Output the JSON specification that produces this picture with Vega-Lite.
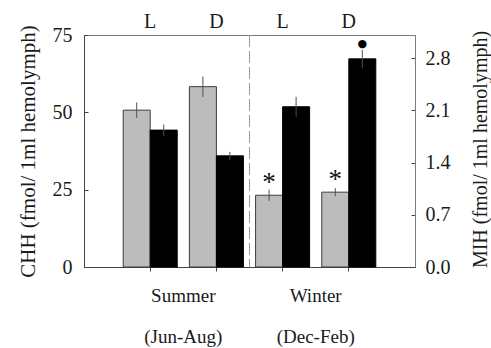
{
  "$schema": "https://vega.github.io/schema/vega-lite/v6.json",
  "width": 331,
  "height": 232,
  "autosize": {"type": "none"},
  "padding": {"left": 84, "top": 35, "right": 76, "bottom": 81},
  "config": {
    "font": "Liberation Serif",
    "view": {"stroke": "#7a7a7a", "strokeWidth": 1},
    "axis": {
      "labelFont": "Liberation Serif",
      "titleFont": "Liberation Serif",
      "labelFontSize": 20,
      "titleFontSize": 20,
      "titleFontWeight": "normal",
      "labelColor": "#1a1a1a",
      "titleColor": "#1a1a1a",
      "domainColor": "#444444",
      "tickColor": "#444444",
      "grid": false
    }
  },
  "datasets": {
    "bars": [
      {"group": "Summer L", "series": "CHH", "value": 50.7, "lo": 48.2, "hi": 53.2, "note": ""},
      {"group": "Summer L", "series": "MIH", "value": 1.835, "lo": 1.76, "hi": 1.911, "note": ""},
      {"group": "Summer D", "series": "CHH", "value": 58.3, "lo": 55.0, "hi": 61.6, "note": ""},
      {"group": "Summer D", "series": "MIH", "value": 1.49, "lo": 1.436, "hi": 1.544, "note": ""},
      {"group": "Winter L", "series": "CHH", "value": 23.2, "lo": 21.4, "hi": 25.0, "note": "*"},
      {"group": "Winter L", "series": "MIH", "value": 2.148, "lo": 2.014, "hi": 2.282, "note": ""},
      {"group": "Winter D", "series": "CHH", "value": 24.2, "lo": 22.9, "hi": 25.5, "note": "*"},
      {"group": "Winter D", "series": "MIH", "value": 2.79, "lo": 2.67, "hi": 2.91, "note": "●"}
    ],
    "seasons": [
      {"season": "Summer"},
      {"season": "Winter"}
    ]
  },
  "layer": [
    {
      "data": {"name": "seasons"},
      "transform": [{"filter": "datum.season === 'Winter'"}],
      "mark": {"type": "rule", "color": "#9a9a9a", "strokeWidth": 1, "strokeDash": [12, 4]},
      "encoding": {
        "x": {
          "field": "season",
          "type": "nominal",
          "bandPosition": 0,
          "scale": {"type": "band", "domain": ["Summer", "Winter"], "paddingInner": 0, "paddingOuter": 0.25},
          "axis": {
            "orient": "bottom",
            "title": null,
            "domain": false,
            "ticks": false,
            "labelAngle": 0,
            "labelFont": "Liberation Serif",
            "labelPadding": 19,
            "labelFontSize": 19,
            "labelLineHeight": 41,
            "labelExpr": "datum.value === 'Summer' ? ['Summer', '(Jun-Aug)'] : ['Winter', '(Dec-Feb)']"
          }
        }
      }
    },
    {
      "data": {"name": "bars"},
      "transform": [{"filter": "datum.series === 'CHH'"}],
      "encoding": {
        "x": {
          "field": "group",
          "type": "nominal",
          "sort": null,
          "scale": {"type": "band", "paddingInner": 0.184, "paddingOuter": 0.592},
          "axis": {"orient": "bottom", "title": null, "labels": false, "ticks": true, "tickSize": 4, "domain": true}
        },
        "xOffset": {"field": "series", "type": "nominal", "scale": {"domain": ["CHH", "MIH"], "paddingInner": 0, "paddingOuter": 0}},
        "y": {
          "field": "value",
          "type": "quantitative",
          "scale": {"domain": [0, 75], "nice": false, "zero": true},
          "axis": {
            "orient": "left",
            "values": [0, 25, 50, 75],
            "format": "d",
            "title": "CHH (fmol/ 1ml hemolymph)",
            "labelFont": "Liberation Serif",
            "titleFont": "Liberation Serif",
            "titleFontSize": 21,
            "tickSize": -4,
            "labelPadding": 16,
            "titlePadding": 14
          }
        }
      },
      "layer": [
        {"mark": {"type": "bar", "color": "#bcbcbc", "stroke": "#3c3c3c", "strokeWidth": 1}},
        {"mark": {"type": "rule", "color": "#505050", "strokeWidth": 1}, "encoding": {"y": {"field": "lo", "type": "quantitative"}, "y2": {"field": "hi"}}},
        {
          "transform": [{"filter": "datum.note !== ''"}],
          "mark": {"type": "text", "font": "Liberation Serif", "fontSize": 27, "color": "#111111", "baseline": "alphabetic", "dy": -4},
          "encoding": {"text": {"field": "note"}}
        }
      ]
    },
    {
      "data": {"name": "bars"},
      "transform": [{"filter": "datum.series === 'MIH'"}],
      "encoding": {
        "x": {
          "field": "group",
          "type": "nominal",
          "sort": null,
          "scale": {"type": "band", "paddingInner": 0.184, "paddingOuter": 0.592},
          "axis": {
            "orient": "top",
            "title": null,
            "domain": false,
            "ticks": false,
            "labelAngle": 0,
            "labelFont": "Liberation Serif",
            "labelPadding": 4,
            "labelExpr": "split(datum.value, ' ')[1]"
          }
        },
        "xOffset": {"field": "series", "type": "nominal", "scale": {"domain": ["CHH", "MIH"], "paddingInner": 0, "paddingOuter": 0}},
        "y": {
          "field": "value",
          "type": "quantitative",
          "scale": {"domain": [0, 3.11], "nice": false, "zero": true},
          "axis": {
            "orient": "right",
            "values": [0, 0.7, 1.4, 2.1, 2.8],
            "format": ".1f",
            "title": "MIH (fmol/ 1ml hemolymph)",
            "labelFont": "Liberation Serif",
            "titleFont": "Liberation Serif",
            "titleFontSize": 20,
            "titleAngle": -90,
            "titleAlign": "center",
            "titleBaseline": "middle",
            "titleX": 65,
            "titleY": 114,
            "domainColor": "#7a7a7a",
            "tickSize": -4,
            "labelPadding": 14
          }
        }
      },
      "layer": [
        {"mark": {"type": "bar", "color": "#000000", "stroke": "#000000", "strokeWidth": 1}},
        {"mark": {"type": "rule", "color": "#505050", "strokeWidth": 1}, "encoding": {"y": {"field": "lo", "type": "quantitative"}, "y2": {"field": "hi"}}},
        {
          "transform": [{"filter": "datum.note !== ''"}],
          "mark": {"type": "text", "font": "DejaVu Sans", "fontSize": 11, "color": "#000000", "baseline": "alphabetic", "dy": -12},
          "encoding": {"text": {"field": "note"}}
        }
      ]
    }
  ],
  "resolve": {
    "scale": {"x": "independent", "y": "independent"},
    "axis": {"x": "independent", "y": "independent"}
  }
}
